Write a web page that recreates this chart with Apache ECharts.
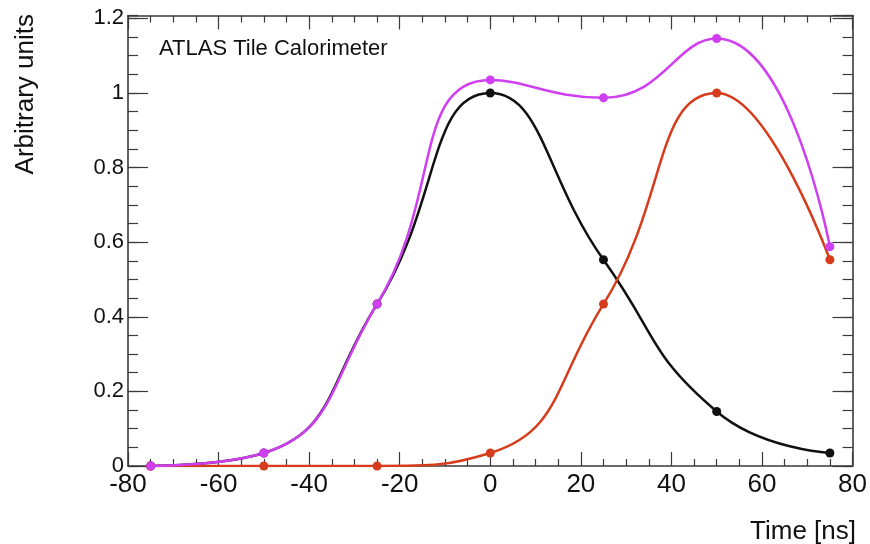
<!DOCTYPE html>
<html>
<head>
<meta charset="utf-8">
<script src="https://cdn.jsdelivr.net/npm/echarts@6/dist/echarts.min.js"></script>
<style>html,body{margin:0;padding:0;background:#fff;}#c{width:870px;height:544px;}</style>
</head>
<body>
<div id="c"></div>
<script>
// Time samples [ns]
const times = [-75, -50, -25, 0, 25, 50, 75];
// Pulse sampled at nominal phase (black)
const pulseA = [0, 0.035, 0.434, 1.0, 0.553, 0.146, 0.035];
// Pulse shifted by 50 ns (red)
const pulseB = [0, 0, 0, 0.035, 0.434, 1.0, 0.553];
// Sum of both pulses (magenta)
const pulseSum = [0, 0.035, 0.434, 1.035, 0.987, 1.146, 0.588];

const xTicks = { min: -80, max: 80, interval: 20 };
const yTicks = { min: 0, max: 1.2077, interval: 0.2, minorInterval: 0.05 };

const FONT = '"Liberation Sans", Arial, Helvetica, sans-serif';
const frameColor = '#3a3a3a';

function pairs(xs, ys) { return xs.map((x, i) => [x, ys[i]]); }

function xAxisCfg(pos, labels) {
  return {
    type: 'value', position: pos, min: xTicks.min, max: xTicks.max, interval: xTicks.interval,
    axisLine: { show: true, onZero: false, lineStyle: { color: frameColor, width: 1.6 } },
    axisTick: { show: true, inside: true, length: 14, lineStyle: { color: frameColor, width: 1.2 } },
    minorTick: { show: true, splitNumber: 4, length: 7, lineStyle: { color: frameColor, width: 1.2 } },
    splitLine: { show: false },
    axisLabel: { show: labels, margin: 6, color: '#111', fontSize: 26, fontFamily: FONT },
  };
}
function yAxisCfg(pos, labels) {
  return {
    type: 'value', position: pos, min: yTicks.min, max: yTicks.max, interval: yTicks.interval,
    axisLine: { show: true, onZero: false, lineStyle: { color: frameColor, width: 1.6 } },
    axisTick: { show: true, inside: true, length: 20, lineStyle: { color: frameColor, width: 1.2 } },
    minorTick: { show: false },
    splitLine: { show: false },
    axisLabel: {
      show: labels, margin: 4, color: '#111', fontSize: 22, fontFamily: FONT, showMaxLabel: false,
    },
  };
}
// Minor ticks of the y axis (every 0.05)
function yMinorCfg(pos) {
  return {
    type: 'value', position: pos, min: yTicks.min, max: yTicks.max, interval: yTicks.minorInterval,
    axisLine: { show: false, onZero: false },
    axisTick: { show: true, inside: true, length: 10, lineStyle: { color: frameColor, width: 1.2 } },
    axisLabel: { show: false },
    splitLine: { show: false },
  };
}

function lineSeries(name, data, color) {
  return {
    name, type: 'line', data: pairs(times, data), smooth: 0.5,
    symbol: 'circle', symbolSize: 9,
    lineStyle: { color, width: 2.5 },
    itemStyle: { color },
    animation: false,
  };
}

const chart = echarts.init(document.getElementById('c'), null, { renderer: 'canvas' });
chart.setOption({
  backgroundColor: '#fff',
  animation: false,
  grid: { left: 128, right: 14, top: 15.5, bottom: 78, containLabel: false },
  xAxis: [xAxisCfg('bottom', true), xAxisCfg('top', false)],
  yAxis: [yAxisCfg('left', true), yAxisCfg('right', false), yMinorCfg('left'), yMinorCfg('right')],
  series: [
    lineSeries('A', pulseA, '#111111'),
    lineSeries('B', pulseB, '#d63c1c'),
    lineSeries('Sum', pulseSum, '#cf3ef0'),
  ],
  graphic: [
    { type: 'text', left: 159, top: 38, style: { text: 'ATLAS Tile Calorimeter', font: '22px ' + FONT, fill: '#111' } },
    { type: 'text', x: 26, y: 14, rotation: Math.PI / 2, style: { text: 'Arbitrary units', font: '26px ' + FONT, fill: '#111', align: 'right', verticalAlign: 'middle' } },
    { type: 'text', x: 856, y: 532, style: { text: 'Time [ns]', font: '26px ' + FONT, fill: '#111', align: 'right', verticalAlign: 'middle' } },
  ],
});
</script>
</body>
</html>
